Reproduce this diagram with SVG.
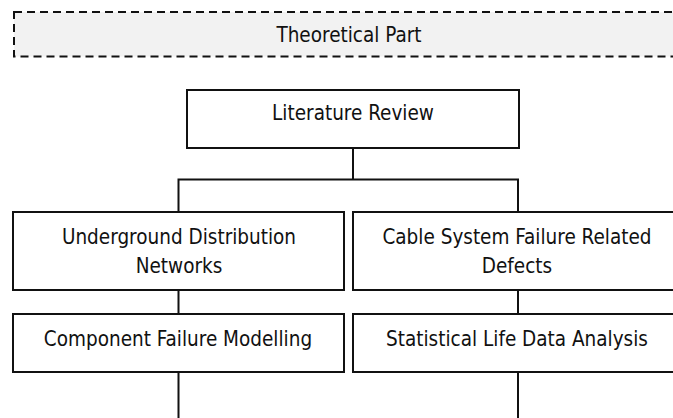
<svg xmlns="http://www.w3.org/2000/svg" width="673" height="418" viewBox="0 0 673 418">
<style>
.box{fill:#ffffff;stroke:#111111;stroke-width:2}
.dash{fill:#f2f2f2;stroke:#111111;stroke-width:2;stroke-dasharray:8 5}
.lbl{font-family:"DejaVu Sans Condensed","DejaVu Sans",sans-serif;font-stretch:condensed;font-size:20.5px;fill:#111111;text-anchor:middle}
.conn{fill:none;stroke:#111111;stroke-width:2}
</style>
<rect width="673" height="418" fill="#ffffff"/>
<g id="theoretical-part">
<rect class="dash" x="14" y="12" width="700" height="44.5"/>
<text class="lbl" x="349" y="42">Theoretical Part</text>
</g>
<g id="connectors">
<path class="conn" d="M353 148V179.5M178.5 212V179.5H518V212M178.5 290V314M518 290V314M178.5 372V418M518 372V418"/>
</g>
<g id="literature-review">
<rect class="box" x="187" y="90" width="332" height="58"/>
<text class="lbl" x="353" y="120">Literature Review</text>
</g>
<g id="underground-distribution-networks">
<rect class="box" x="13" y="212" width="331" height="78"/>
<text class="lbl" x="179" y="244">Underground Distribution</text>
<text class="lbl" x="179" y="273">Networks</text>
</g>
<g id="cable-system-failure-related-defects">
<rect class="box" x="353" y="212" width="331" height="78"/>
<text class="lbl" x="517" y="244">Cable System Failure Related</text>
<text class="lbl" x="517" y="273">Defects</text>
</g>
<g id="component-failure-modelling">
<rect class="box" x="13" y="314" width="331" height="58"/>
<text class="lbl" x="178" y="346">Component Failure Modelling</text>
</g>
<g id="statistical-life-data-analysis">
<rect class="box" x="353" y="314" width="331" height="58"/>
<text class="lbl" x="517" y="346">Statistical Life Data Analysis</text>
</g>
</svg>
